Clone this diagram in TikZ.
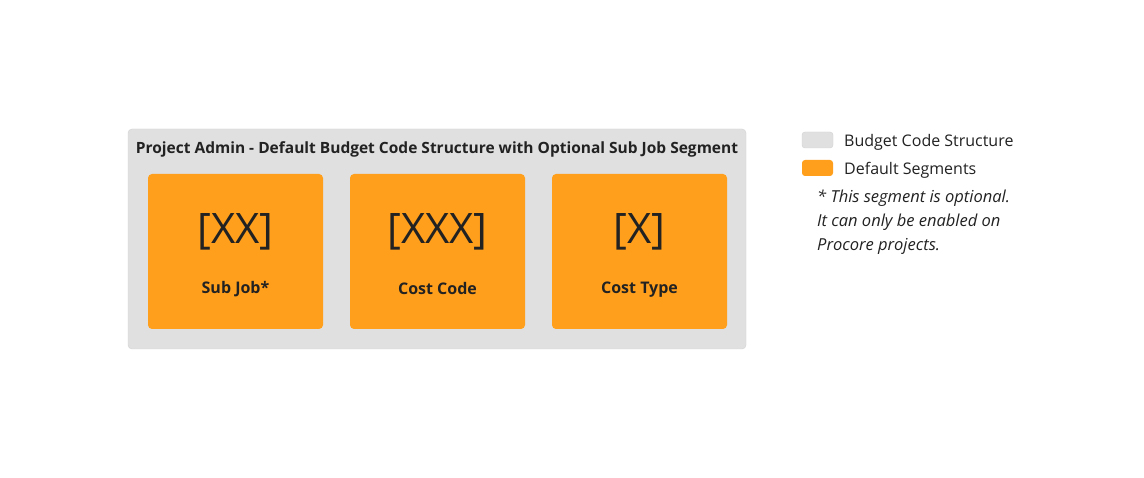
\documentclass[tikz,border=0pt]{standalone}
\usepackage{fontspec}
\setmainfont{Open Sans}
\begin{document}
\begin{tikzpicture}[x=1pt,y=-1pt,
  txt/.style={text=textc, inner sep=0pt},
  seg/.style={fill=segorange, rounded corners=4pt, draw=none},
  swatch/.style={rounded corners=3pt, minimum width=31pt, minimum height=16pt, inner sep=0pt}]
\definecolor{textc}{HTML}{222222}
\definecolor{segorange}{HTML}{FF9F1C}
\definecolor{boxgray}{HTML}{E0E0E0}
\definecolor{boxedge}{HTML}{D2D2D2}
\useasboundingbox (0,0) rectangle (1144,478);
\fill[white] (0,0) rectangle (1144,478);
\draw[fill=boxgray, draw=boxedge, rounded corners=4pt] (128,129) rectangle (746,349);
\node[txt, font=\fontsize{15.5}{18}\selectfont\bfseries] (title) at (437,149.5) {Project Admin - Default Budget Code Structure with Optional Sub Job Segment};
\fill[seg] (148,174) rectangle (323,329);
\fill[seg] (350,174) rectangle (525,329);
\fill[seg] (552,174) rectangle (727,329);
\node[txt, font=\fontsize{42}{46}\selectfont] (c1) at (235.5,232) {[XX]};
\node[txt, font=\fontsize{42}{46}\selectfont] (c2) at (437.5,232) {[XXX]};
\node[txt, font=\fontsize{42}{46}\selectfont] (c3) at (639.5,232) {[X]};
\node[txt, font=\fontsize{16}{19}\selectfont\bfseries] (l1) at (235.5,289) {Sub Job*};
\node[txt, font=\fontsize{16}{19}\selectfont\bfseries] (l2) at (437.5,289) {Cost Code};
\node[txt, font=\fontsize{16}{19}\selectfont\bfseries] (l3) at (639.5,290) {Cost Type};
\node[swatch, fill=boxgray, draw=boxedge] (sw1) at (817.5,140) {};
\node[swatch, fill=segorange] (sw2) at (817.5,168) {};
\node[txt, anchor=west, font=\fontsize{16}{19}\selectfont] (lg1) at (844,142) {Budget Code Structure};
\node[txt, anchor=west, font=\fontsize{16}{19}\selectfont] (lg2) at (844,170) {Default Segments};
\node[txt, anchor=west, font=\fontsize{16.5}{19}\selectfont\itshape] (n1) at (817,198) {* This segment is optional.};
\node[txt, anchor=west, font=\fontsize{16.5}{19}\selectfont\itshape] (n2) at (817,222) {It can only be enabled on};
\node[txt, anchor=west, font=\fontsize{16.5}{19}\selectfont\itshape] (n3) at (817,246) {Procore projects.};
\end{tikzpicture}
\end{document}
